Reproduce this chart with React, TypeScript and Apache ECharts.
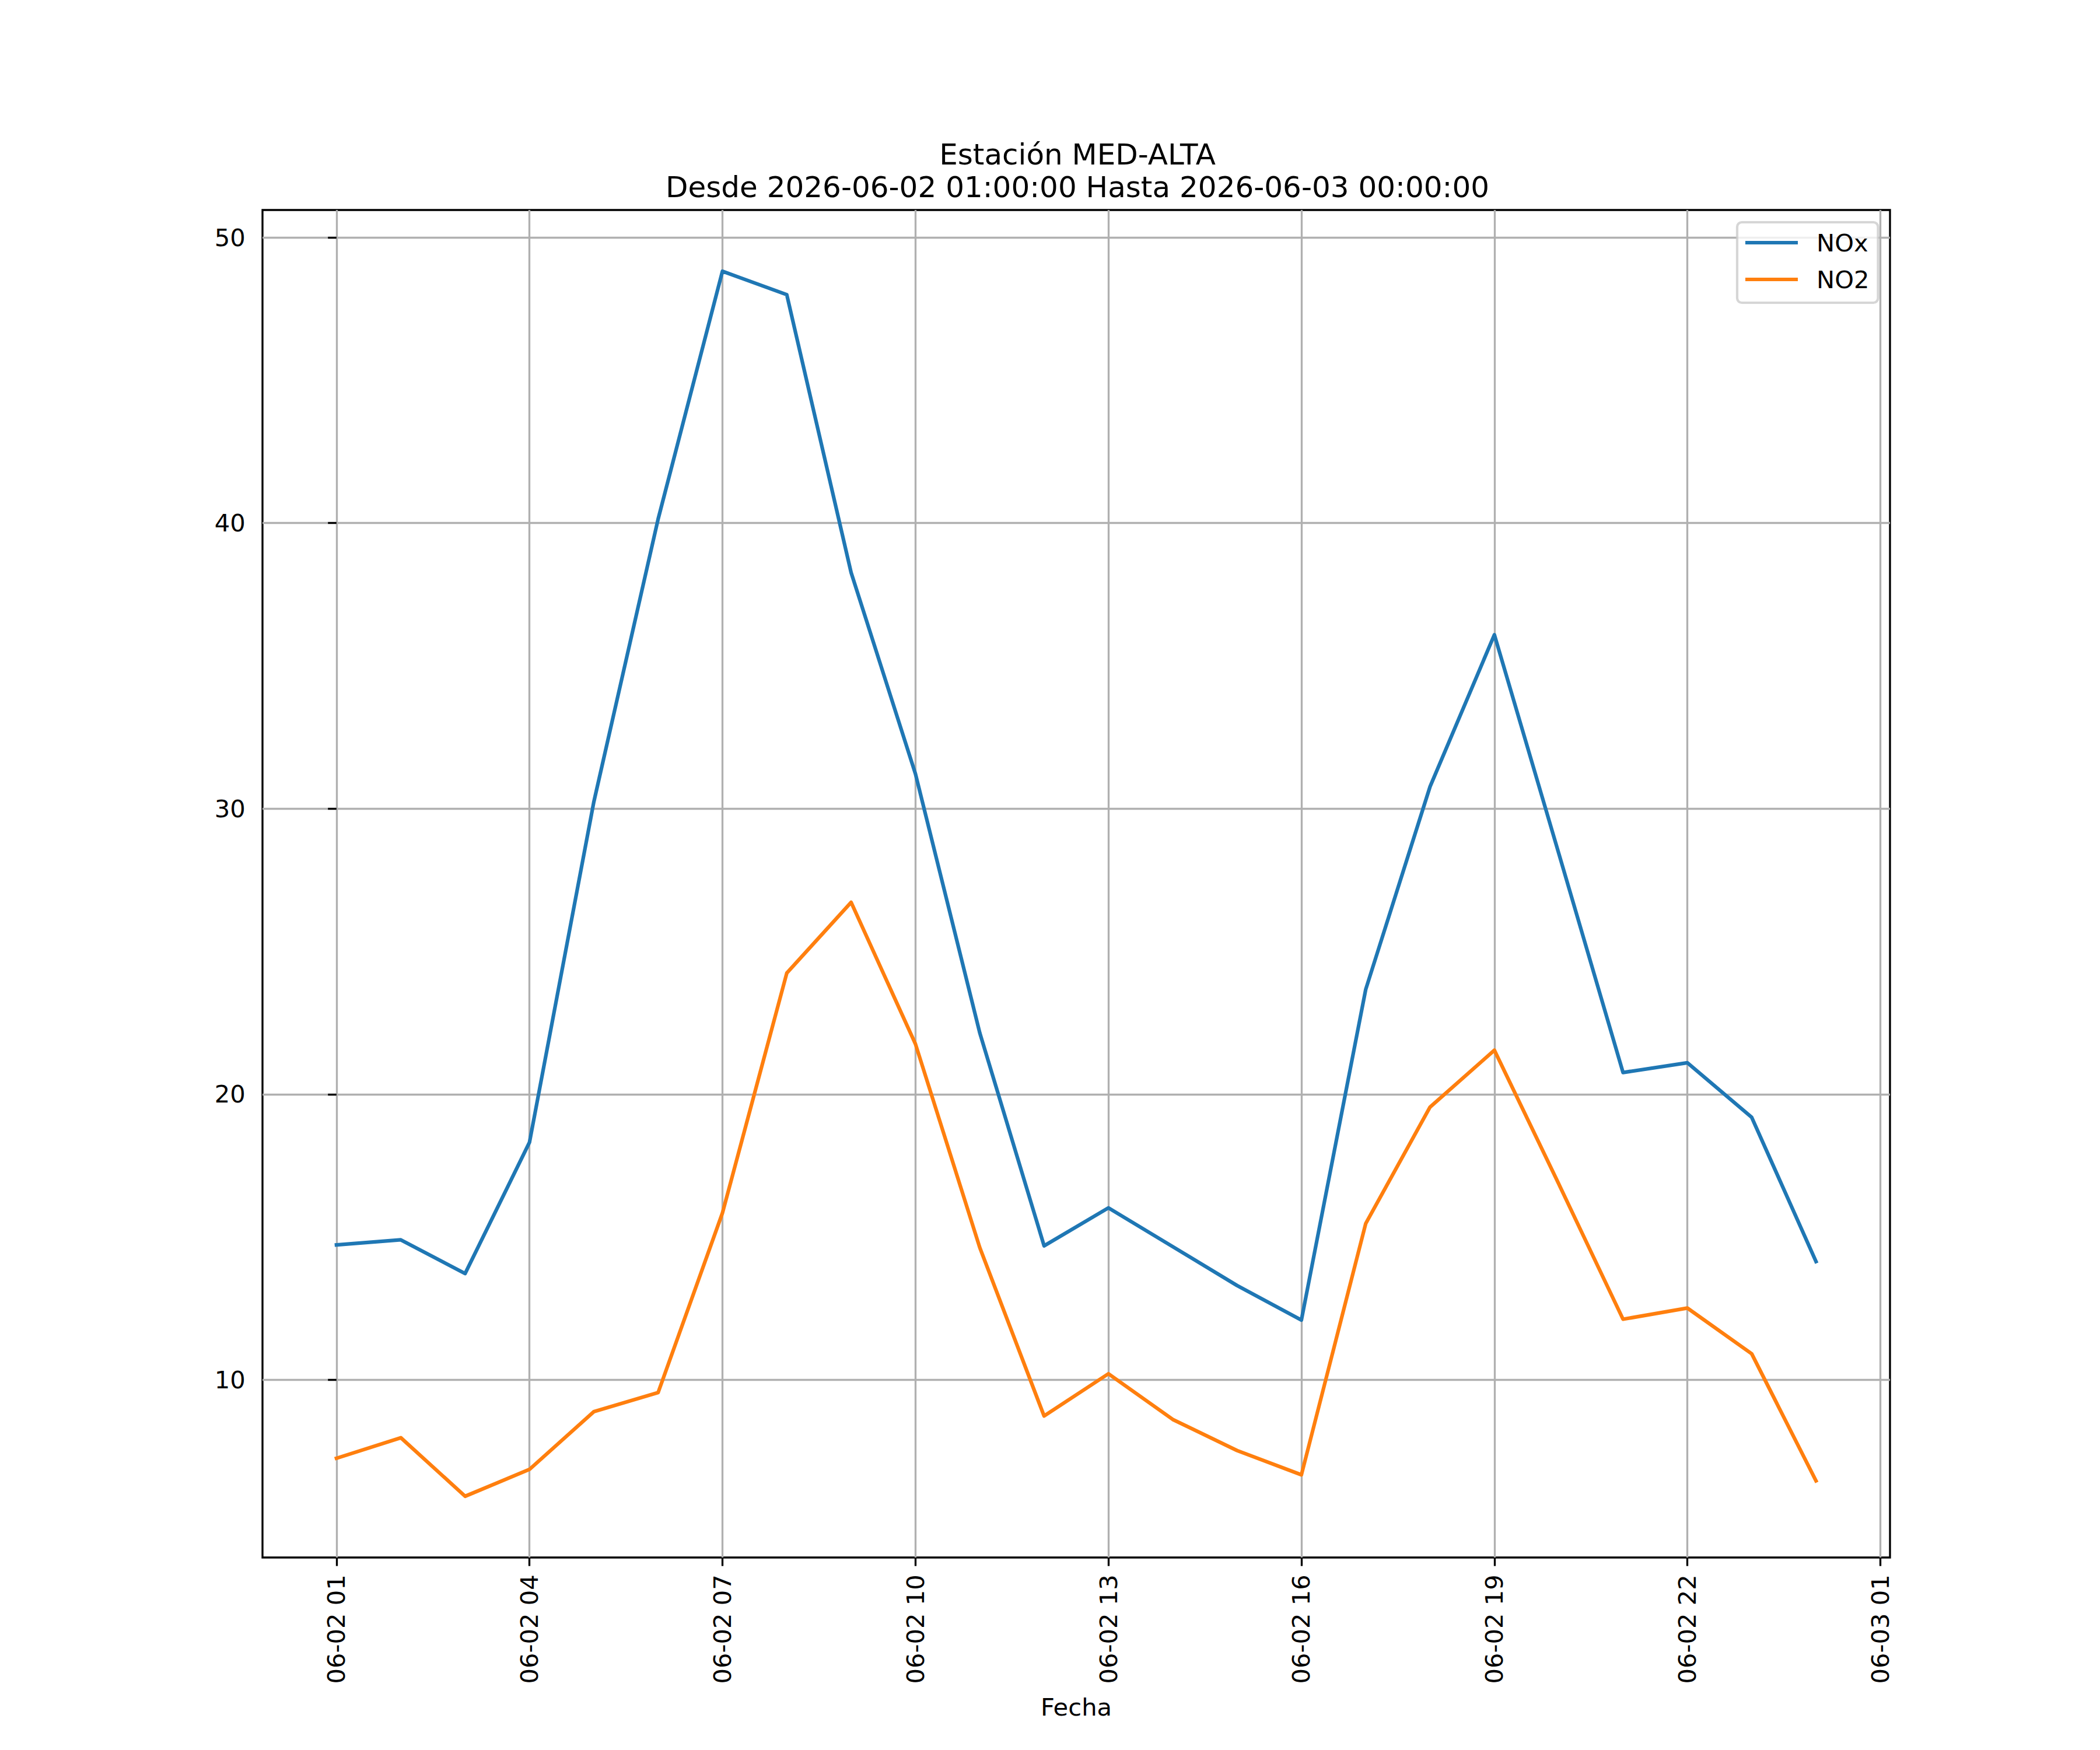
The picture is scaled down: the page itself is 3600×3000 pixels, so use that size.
import React, { useEffect, useRef } from "react";
import * as echarts from "echarts";

const times = [
  "2026-06-02 01:00", "2026-06-02 02:00", "2026-06-02 03:00", "2026-06-02 04:00",
  "2026-06-02 05:00", "2026-06-02 06:00", "2026-06-02 07:00", "2026-06-02 08:00",
  "2026-06-02 09:00", "2026-06-02 10:00", "2026-06-02 11:00", "2026-06-02 12:00",
  "2026-06-02 13:00", "2026-06-02 14:00", "2026-06-02 15:00", "2026-06-02 16:00",
  "2026-06-02 17:00", "2026-06-02 18:00", "2026-06-02 19:00", "2026-06-02 20:00",
  "2026-06-02 21:00", "2026-06-02 22:00", "2026-06-02 23:00", "2026-06-03 00:00",
];

const noxValues = [
  14.72, 14.9, 13.72, 18.31, 30.23, 40.14, 48.82, 48.0,
  38.27, 31.22, 22.15, 14.69, 16.02, 14.66, 13.3, 12.09,
  23.67, 30.77, 36.09, 28.44, 20.76, 21.1, 19.19, 14.14,
];

const no2Values = [
  7.25, 7.97, 5.92, 6.86, 8.88, 9.55, 15.84, 24.24,
  26.72, 21.76, 14.63, 8.73, 10.21, 8.61, 7.52, 6.67,
  15.47, 19.55, 21.54, 16.86, 12.12, 12.51, 10.91, 6.46,
];

const xTickLabels = [
  "06-02 01", "06-02 04", "06-02 07", "06-02 10", "06-02 13",
  "06-02 16", "06-02 19", "06-02 22", "06-03 01",
];
const yTicks = [10, 20, 30, 40, 50];

const seriesNames = ["NOx", "NO2"];
const titleLines = ["Estación MED-ALTA", "Desde 2026-06-02 01:00:00 Hasta 2026-06-03 00:00:00"];
const xAxisTitle = "Fecha";

const FONT = "'DejaVu Sans', sans-serif";
const PT = 300 / 72;

function toMs(t: string): number {
  return Date.parse(t.replace(" ", "T") + ":00Z");
}

export default function App() {
  const ref = useRef<HTMLDivElement>(null);

  useEffect(() => {
    document.body.style.margin = "0";
    if (!ref.current) return;
    const chart = echarts.init(ref.current, undefined, { renderer: "svg" });

    const base = toMs(times[0]);
    const hours = times.map((t) => (toMs(t) - base) / 3.6e6);
    const tickHours = xTickLabels.map((l) => {
      const [md, hh] = l.split(" ");
      return (toMs(`2026-${md} ${hh}:00`) - base) / 3.6e6;
    });

    const xSpan = hours[hours.length - 1] - hours[0];
    const xMin = hours[0] - 0.05 * xSpan;
    const xMax = hours[hours.length - 1] + 0.05 * xSpan;
    const allY = [...noxValues, ...no2Values];
    const yLo = Math.min(...allY);
    const yHi = Math.max(...allY);
    const ySpan = yHi - yLo;
    const yMin = yLo - 0.05 * ySpan;
    const yMax = yHi + 0.05 * ySpan;

    const colors = ["#1f77b4", "#ff7f0e"];
    const values = [noxValues, no2Values];
    const lineIcon = "path://M0,0 L90,0 L90,6 L0,6 Z";

    chart.setOption({
      animation: false,
      backgroundColor: "#ffffff",
      title: {
        text: titleLines.join("\n"),
        left: 1842,
        top: 232,
        textAlign: "center",
        textStyle: {
          fontFamily: FONT,
          fontSize: 12 * PT,
          fontWeight: "normal",
          color: "#000",
          lineHeight: 56,
        },
      },
      legend: {
        orient: "vertical",
        left: 2978,
        top: 381,
        width: 242,
        padding: [14, 15, 19, 14],
        itemGap: 21,
        itemWidth: 90,
        itemHeight: 42,
        symbolKeepAspect: true,
        backgroundColor: "rgba(255,255,255,0.8)",
        borderColor: "rgba(204,204,204,0.8)",
        borderWidth: PT,
        borderRadius: 8,
        textStyle: {
          fontFamily: FONT,
          fontSize: 10 * PT,
          color: "#000",
          padding: [0, 0, 0, 27],
        },
        data: seriesNames.map((name, k) => ({
          name,
          icon: lineIcon,
          itemStyle: { color: colors[k], borderWidth: 0 },
        })),
      },
      grid: {
        left: 450,
        top: 360,
        width: 2790,
        height: 2310,
        show: true,
        borderColor: "#000",
        borderWidth: 0.8 * PT,
        backgroundColor: "transparent",
        containLabel: false,
      },
      xAxis: {
        type: "value",
        min: xMin,
        max: xMax,
        axisLine: { show: false },
        axisTick: {
          show: true,
          inside: false,
          length: 3.5 * PT,
          customValues: tickHours,
          lineStyle: { color: "#000", width: 0.8 * PT },
        },
        axisLabel: {
          customValues: tickHours,
          rotate: 90,
          margin: 7 * PT,
          fontFamily: FONT,
          fontSize: 10 * PT,
          color: "#000",
          formatter: (v: number) => {
            const i = tickHours.findIndex((h) => Math.abs(h - v) < 1e-6);
            return i >= 0 ? xTickLabels[i] : "";
          },
        },
        splitLine: {
          show: true,
          lineStyle: { color: "#b0b0b0", width: 0.8 * PT },
        },
        name: xAxisTitle,
        nameLocation: "middle",
        nameGap: 235,
        nameTextStyle: {
          fontFamily: FONT,
          fontSize: 10 * PT,
          color: "#000",
        },
      },
      yAxis: {
        type: "value",
        min: yMin,
        max: yMax,
        axisLine: { show: false },
        axisTick: {
          show: true,
          inside: false,
          length: 3.5 * PT,
          customValues: yTicks,
          lineStyle: { color: "#000", width: 0.8 * PT },
        },
        axisLabel: {
          customValues: yTicks,
          margin: 7 * PT,
          fontFamily: FONT,
          fontSize: 10 * PT,
          color: "#000",
        },
        splitLine: {
          show: true,
          lineStyle: { color: "#b0b0b0", width: 0.8 * PT },
        },
      },
      series: seriesNames.map((name, k) => ({
        name,
        type: "line",
        symbol: "none",
        showSymbol: false,
        color: colors[k],
        lineStyle: { color: colors[k], width: 1.5 * PT, join: "round", cap: "square" },
        data: hours.map((h, i) => [h, values[k][i]]),
        z: 3,
      })),
    });

    return () => chart.dispose();
  }, []);

  return <div ref={ref} style={{ width: 3600, height: 3000 }} />;
}
